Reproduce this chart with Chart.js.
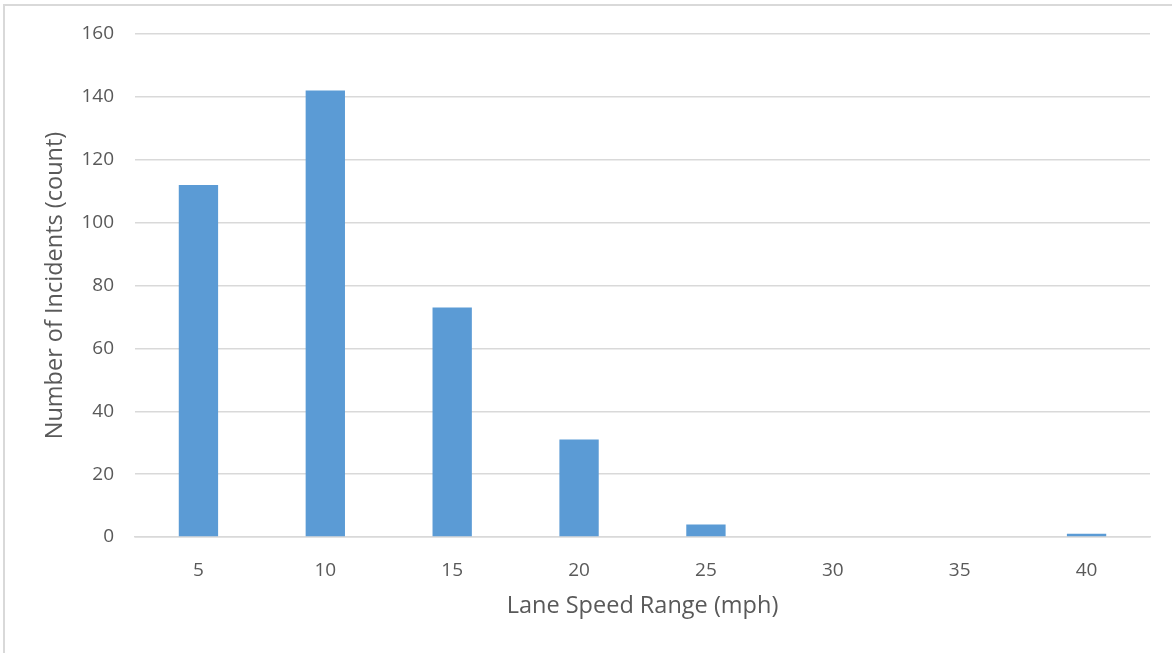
<!DOCTYPE html>
<html>
<head>
<meta charset="utf-8">
<script src="https://cdn.jsdelivr.net/npm/chart.js@4"></script>
<style>
    html, body { margin: 0; padding: 0; background: #fff; }
    #wrap { position: relative; width: 1172px; height: 653px; }
    #frame { position: absolute; left: 3px; top: 4px; right: 0; bottom: 0; border-top: 2px solid #d9d9d9; border-left: 2px solid #d9d9d9; pointer-events: none; }
    canvas { position: absolute; left: 0; top: 0; }
</style>
</head>
<body>
<div id="wrap">
    <canvas id="speedChart" width="1172" height="653"></canvas>
    <div id="frame"></div>
</div>
<script>
const speedRanges = ['5', '10', '15', '20', '25', '30', '35', '40'];
const incidentCounts = [112, 142, 73, 31, 4, 0, 0, 1];
const yTicks = [0, 20, 40, 60, 80, 100, 120, 140, 160];

const textColor = '#595959';
const gridColor = '#d9d9d9';

function initChart() {
    const ctx = document.getElementById('speedChart').getContext('2d');
    new Chart(ctx, {
        type: 'bar',
        data: {
            labels: speedRanges,
            datasets: [{
                label: 'Incidents',
                data: incidentCounts,
                backgroundColor: '#5b9bd5',
                borderWidth: 0,
                categoryPercentage: 1,
                barPercentage: 0.31
            }]
        },
        options: {
            responsive: false,
            animation: false,
            layout: { padding: { top: 34, right: 22, bottom: 0, left: 0 } },
            plugins: { legend: { display: false }, tooltip: { enabled: false } },
            scales: {
                x: {
                    grid: { display: false, drawTicks: false },
                    border: { display: true, color: gridColor, width: 1.5 },
                    ticks: { color: textColor, font: { family: 'Open Sans', size: 19 }, padding: 22 },
                    title: { display: true, text: 'Lane Speed Range (mph)', color: textColor, font: { family: 'Open Sans', size: 23.5 }, padding: { top: 0, bottom: 33 } },
                    afterFit: scale => { scale.height = 116; }
                },
                y: {
                    min: 0,
                    max: 160,
                    afterBuildTicks: scale => { scale.ticks = yTicks.map(v => ({ value: v })); },
                    grid: { color: gridColor, lineWidth: 1.5, drawTicks: false },
                    border: { display: false },
                    ticks: { color: textColor, font: { family: 'Open Sans', size: 19 }, padding: 21 },
                    title: { display: true, text: 'Number of Incidents (count)', color: textColor, font: { family: 'Open Sans', size: 23.5 }, padding: { top: 41, bottom: 0 } },
                    afterFit: scale => { scale.width = 135; }
                }
            }
        }
    });
}

document.addEventListener('DOMContentLoaded', initChart);
</script>
</body>
</html>
